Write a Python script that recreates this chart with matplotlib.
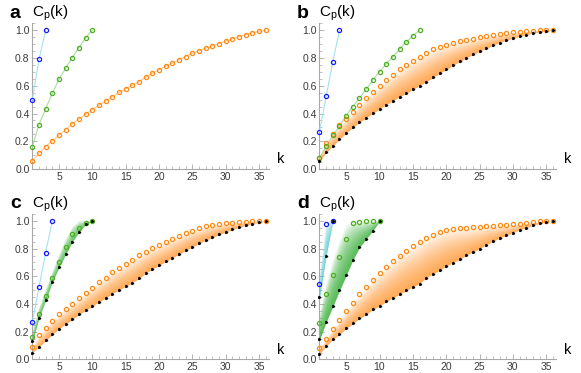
import numpy as np
import matplotlib
matplotlib.use('Agg')
import matplotlib.pyplot as plt
from matplotlib.ticker import MultipleLocator, FormatStrFormatter

# ---- data ----
a_blue = [0.50, 0.79, 1.00]
a_green = [0.16, 0.32, 0.435, 0.546, 0.648, 0.727, 0.804, 0.876, 0.946, 1.0]
a_orange = [0.055, 0.113, 0.161, 0.202, 0.245, 0.284, 0.325, 0.361, 0.395, 0.428,
            0.46, 0.491, 0.521, 0.552, 0.578, 0.604, 0.63, 0.662, 0.691, 0.717,
            0.74, 0.765, 0.787, 0.811, 0.835, 0.852, 0.871, 0.888, 0.905, 0.922,
            0.939, 0.953, 0.97, 0.982, 0.994, 1.0]

b_blue = [0.27, 0.525, 0.775, 1.0]
b_green = [0.08, 0.163, 0.242, 0.31, 0.384, 0.45, 0.512, 0.575, 0.642, 0.701,
           0.758, 0.809, 0.864, 0.914, 0.962, 1.0]
b_orange = [0.08, 0.19, 0.252, 0.314, 0.362, 0.41, 0.462, 0.51, 0.556, 0.599,
            0.639, 0.68, 0.718, 0.749, 0.78, 0.811, 0.835, 0.862, 0.88, 0.897,
            0.909, 0.921, 0.93, 0.94, 0.95, 0.957, 0.964, 0.973, 0.978, 0.986,
            0.988, 0.993, 0.997, 1.0, 1.0, 1.0]
b_black = [0.06, 0.12, 0.168, 0.216, 0.262, 0.3, 0.338, 0.371, 0.403, 0.434,
           0.465, 0.493, 0.52, 0.547, 0.575, 0.602, 0.63, 0.66, 0.69, 0.718,
           0.748, 0.776, 0.802, 0.826, 0.85, 0.872, 0.892, 0.912, 0.93, 0.945,
           0.957, 0.969, 0.98, 0.99, 0.997, 1.0]

c_blue = [0.27, 0.52, 0.77, 1.0]
c_green = [0.165, 0.33, 0.46, 0.59, 0.70, 0.81, 0.905, 0.95, 0.985, 1.0]
c_green_black = [0.13, 0.30, 0.43, 0.56, 0.665, 0.76, 0.85, 0.92, 0.975, 1.0]
c_green_top = [0.21, 0.38, 0.51, 0.64, 0.76, 0.87, 0.96, 1.0, 1.0, 1.0]
c_orange = [0.09, 0.176, 0.229, 0.279, 0.325, 0.363, 0.401, 0.44, 0.483, 0.519,
            0.56, 0.589, 0.63, 0.66, 0.69, 0.718, 0.752, 0.777, 0.804, 0.829,
            0.848, 0.872, 0.891, 0.912, 0.929, 0.946, 0.96, 0.97, 0.977, 0.982,
            0.987, 0.992, 0.995, 0.996, 0.998, 1.0]
c_black = [0.05, 0.093, 0.138, 0.181, 0.222, 0.258, 0.291, 0.325, 0.356, 0.385,
           0.416, 0.445, 0.476, 0.502, 0.529, 0.555, 0.585, 0.625, 0.652, 0.68,
           0.707, 0.734, 0.76, 0.787, 0.812, 0.838, 0.862, 0.88, 0.902, 0.92,
           0.938, 0.953, 0.968, 0.98, 0.991, 1.0]

d_blue = [0.545, 0.98, 1.0]
d_blue_black = [0.45, 0.75, 1.0]
d_blue_top = [0.62, 1.0, 1.0]
d_green = [0.26, 0.476, 0.613, 0.742, 0.872, 0.984, 0.995, 0.998, 1.0, 1.0]
d_green_black = [0.145, 0.272, 0.385, 0.5, 0.608, 0.72, 0.81, 0.872, 0.93, 1.0]
d_green_top = [0.33, 0.55, 0.72, 0.86, 0.97, 1.0, 1.0, 1.0, 1.0, 1.0]
d_orange = [0.083, 0.15, 0.219, 0.284, 0.349, 0.409, 0.469, 0.524, 0.575, 0.625,
            0.67, 0.71, 0.75, 0.785, 0.815, 0.845, 0.875, 0.9, 0.92, 0.937,
            0.944, 0.948, 0.95, 0.955, 0.958, 0.963, 0.965, 0.968, 0.972, 0.975,
            0.98, 0.984, 0.991, 0.996, 0.998, 1.0]
d_black = [0.04, 0.1, 0.145, 0.183, 0.224, 0.26, 0.296, 0.327, 0.361, 0.387,
           0.419, 0.445, 0.471, 0.498, 0.524, 0.548, 0.59, 0.617, 0.644, 0.675,
           0.699, 0.723, 0.752, 0.776, 0.8, 0.829, 0.853, 0.876, 0.896, 0.915,
           0.937, 0.951, 0.968, 0.982, 0.994, 1.0]

BLUE, GREEN, ORANGE = '#1a1aff', '#4fae24', '#ff8a14'
LBLUE, LGREEN, LORANGE = '#a4e4e8', '#a8dda0', '#ffc890'


def kk(vals):
    return np.arange(1, len(vals) + 1)


def circles(ax, vals, color, line=None):
    k = kk(vals)
    if line:
        ax.plot(k, vals, color=line, lw=0.8, zorder=3)
    ax.plot(k, vals, 'o', ms=3.0, mfc='none', mec=color, mew=0.9,
            zorder=5, clip_on=False)


def blacks(ax, vals):
    ax.plot(kk(vals), vals, ls='none', marker=(3, 0, 25), ms=1.9,
            color='black', zorder=6, clip_on=False)


def band(ax, low, top, color, n=14, a=0.08):
    # stacked layers, dense next to the model curve and fading upwards
    k = kk(low)
    low = np.asarray(low)
    top = np.asarray(top)
    for i in range(n):
        f = (i + 1) / n
        ax.fill_between(k, low, low + (top - low) * f, color=color,
                        alpha=a, lw=0, zorder=2)


def style(ax, letter):
    ax.set_xlim(1, 36.5)
    ax.set_ylim(0, 1.05)
    for s in ['top', 'right']:
        ax.spines[s].set_visible(False)
    for s in ['left', 'bottom']:
        ax.spines[s].set_color('#a8a8a8')
        ax.spines[s].set_linewidth(0.8)
    ax.xaxis.set_major_locator(MultipleLocator(5))
    ax.xaxis.set_minor_locator(MultipleLocator(1))
    ax.yaxis.set_major_locator(MultipleLocator(0.2))
    ax.yaxis.set_minor_locator(MultipleLocator(0.05))
    ax.yaxis.set_major_formatter(FormatStrFormatter('%.1f'))
    ax.tick_params(which='both', direction='in', color='#a8a8a8',
                   labelsize=7.5, labelcolor='#3a3a3a', pad=2)
    ax.tick_params(which='major', length=3.5, width=0.6)
    ax.tick_params(which='minor', length=2, width=0.5)
    ax.text(1.05, 0.02, 'k', transform=ax.transAxes, fontsize=10.5,
            ha='center', va='bottom')
    ax.text(-0.095, 1.07, letter, transform=ax.transAxes, fontsize=14,
            fontweight='bold', ha='left', va='center')
    ax.text(0.0, 1.07, r'C$_\mathregular{p}$(k)', transform=ax.transAxes,
            fontsize=11, ha='left', va='center')


plt.rcParams['font.family'] = ['Liberation Sans', 'DejaVu Sans']
fig = plt.figure(figsize=(5.81, 3.73), dpi=100)
w, h = 0.4074, 0.3903
ax_a = fig.add_axes([0.0556, 0.5469, w, h])
ax_b = fig.add_axes([0.5499, 0.5469, w, h])
ax_c = fig.add_axes([0.0556, 0.0362, w, h])
ax_d = fig.add_axes([0.5499, 0.0362, w, h])

# a
circles(ax_a, a_orange, ORANGE, LORANGE)
circles(ax_a, a_green, GREEN, LGREEN)
circles(ax_a, a_blue, BLUE, LBLUE)
style(ax_a, 'a')

# b
band(ax_b, b_black, b_orange, ORANGE)
blacks(ax_b, b_black)
circles(ax_b, b_orange, ORANGE)
circles(ax_b, b_green, GREEN, LGREEN)
circles(ax_b, b_blue, BLUE, LBLUE)
style(ax_b, 'b')

# c
band(ax_c, c_black, c_orange, ORANGE)
band(ax_c, c_green_black, c_green_top, '#2fae2f', n=5, a=0.22)
blacks(ax_c, c_black)
blacks(ax_c, c_green_black)
circles(ax_c, c_orange, ORANGE)
circles(ax_c, c_green, GREEN)
circles(ax_c, c_blue, BLUE, LBLUE)
style(ax_c, 'c')

# d
band(ax_d, d_black, d_orange, ORANGE)
band(ax_d, d_green_black, d_green_top, '#2fae2f', a=0.1)
band(ax_d, d_blue_black, d_blue_top, '#36c0c8', n=8, a=0.13)
blacks(ax_d, d_black)
blacks(ax_d, d_green_black)
blacks(ax_d, d_blue_black)
circles(ax_d, d_orange, ORANGE)
circles(ax_d, d_green, GREEN)
circles(ax_d, d_blue, BLUE)
style(ax_d, 'd')

fig.savefig('out.png', dpi=100)
